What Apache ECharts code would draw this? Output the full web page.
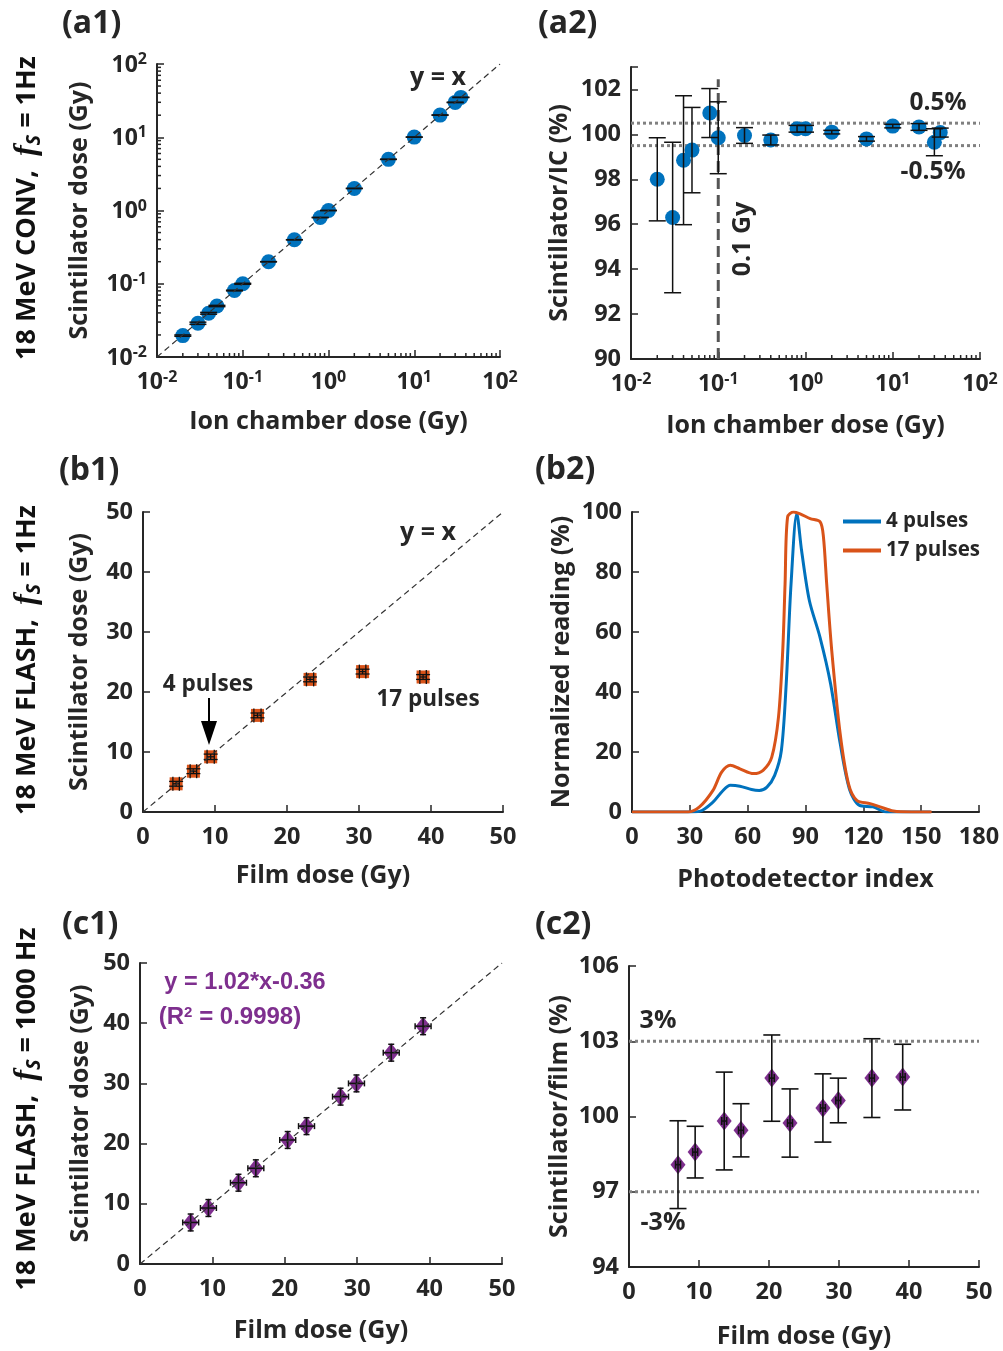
<!DOCTYPE html>
<html><head><meta charset="utf-8">
<script src="https://cdn.jsdelivr.net/npm/echarts@6/dist/echarts.min.js"></script>
<style>html,body{margin:0;padding:0;background:#fff}#c{width:1003px;height:1351px}</style>
</head><body><div id="c"></div>
<script>
// ---------- data ----------
// (a) 18 MeV CONV
const icDose      = [0.02,0.03,0.04,0.05,0.08,0.1,0.2,0.4,0.8,1,2,5,10,20,30,35];
const scintA1     = [0.0196,0.0289,0.0395,0.0497,0.0808,0.0999,0.2,0.399,0.802,1.0,2.0,4.99,10.04,20.07,29.9,35.0];
const scintA1Err  = [0.0004,0.001,0.0011,0.001,0.0009,0.0016,0.0007,0.0009,0.0012,0.0015,0.0016,0.005,0.008,0.03,0.18,0.07];
const ratioIC     = [98.0,96.3,98.85,99.3,100.95,99.85,99.95,99.75,100.25,100.25,100.1,99.8,100.37,100.33,99.65,100.08];
const ratioICErr  = [1.85,3.35,2.87,1.9,1.09,1.6,0.35,0.22,0.15,0.15,0.08,0.1,0.08,0.15,0.6,0.2];
// (b1) 18 MeV FLASH, 1 Hz
const filmB       = [4.6,7.0,9.4,15.9,23.2,30.5,38.9];
const scintB      = [4.7,6.8,9.2,16.1,22.1,23.4,22.5];
const filmBErr    = [0.45,0.45,0.5,0.5,0.5,0.45,0.45];
const scintBErr   = [0.4,0.4,0.45,0.4,0.4,0.4,0.4];
// (b2) profiles
const p4X  = [0,30,35,42,47,51,56,62,66,70,74,77.5,80,82.5,85.5,88,92,97.5,103,108,113,118,125,132,155];
const p4Y  = [0,0,0.2,3.3,7,8.9,8.6,7.5,7.2,8.3,12.2,20.6,42.8,76,99.5,87,70.5,58.3,42.8,22.8,7.2,2.2,1.7,0,0];
const p17X = [0,29,35,42,46.5,51,56,63,68,72.5,76,78.2,79.4,80.7,83.8,87.2,92.4,97.6,99.3,101,103.6,108,112.3,116.6,123.5,128.7,135.6,145,155.4];
const p17Y = [0,0,1.7,7.2,13.3,15.6,14.4,12.8,13.9,18.3,31.7,53.9,76,98.3,100,99.4,97.8,96.7,91.7,76,53.9,26,9.4,3.9,2.8,1.7,0.3,0,0];
// (c) 18 MeV FLASH, 1000 Hz
const filmC       = [7.0,9.45,13.6,16.0,20.4,23.0,27.7,29.9,34.7,39.1];
const scintC      = [6.9,9.3,13.5,15.9,20.6,22.9,27.8,30.0,35.1,39.5];
const filmCErr    = [1.1,1.1,1.1,1.1,1.1,1.1,1.1,1.1,1.1,1.1];
const scintCErr   = [1.4,1.4,1.4,1.4,1.4,1.4,1.4,1.4,1.4,1.4];
const ratioFilm   = [98.08,98.58,99.82,99.45,101.53,99.74,100.34,100.64,101.53,101.57];
const ratioFilmErr= [1.75,1.03,1.95,1.06,1.72,1.36,1.36,0.89,1.57,1.31];
const ratioFilmXErr=[0.35,0.35,0.35,0.35,0.35,0.35,0.35,0.35,0.35,0.35];
// reference lines
const icTolerance   = [100.5, 99.5];
const filmTolerance = [103, 97];
const icThreshold   = 0.1;

// ---------- styling ----------
const FONT = 'Open Sans';
const TXT = '#262626';
const BLUE = '#0072BD', ORANGE = '#D95319', PURPLE = '#7E2F8E';

const logMinor = [];
for (let k = -2; k <= 1; k++) for (let m = 2; m <= 9; m++) logMinor.push(m * Math.pow(10, k));

function logLabel(v) { return '{b|10}{s|' + Math.round(Math.log10(v)) + '}'; }
const logRich = {
  b: {fontFamily: FONT, fontWeight: 'bold', fontSize: 23, color: TXT, lineHeight: 25, verticalAlign: 'bottom', padding: [3, 0, 0, 0]},
  s: {fontFamily: FONT, fontWeight: 'bold', fontSize: 16, color: TXT, lineHeight: 15, verticalAlign: 'top'}
};

function mkAxis(o) {
  const ax = {
    type: o.type || 'value', gridIndex: o.grid, min: o.min, max: o.max,
    name: o.name, nameLocation: 'middle', nameGap: o.gap,
    nameTextStyle: {color: TXT, fontFamily: FONT, fontWeight: 'bold', fontSize: 25},
    axisLine: {show: true, onZero: false, lineStyle: {color: TXT, width: 2}},
    axisTick: {show: true, inside: true, length: 7, lineStyle: {color: TXT, width: 1.5}},
    splitLine: {show: false}, minorTick: {show: false}, minorSplitLine: {show: false},
    axisLabel: {color: TXT, fontFamily: FONT, fontWeight: 'bold', fontSize: 23.5, margin: o.margin || 10,
      showMinLabel: true, showMaxLabel: true}
  };
  if (o.interval != null) ax.interval = o.interval;
  if (o.type === 'log') { ax.logBase = 10; ax.axisLabel.formatter = logLabel; ax.axisLabel.rich = logRich; }
  if (o.fmt) ax.axisLabel.formatter = o.fmt;
  return ax;
}

function errRender(capW, capH, color, width) {
  return function (params, api) {
    const x = api.value(0), y = api.value(1), ex = api.value(2), ey = api.value(3);
    const st = {stroke: color, lineWidth: width};
    const ch = [];
    if (ey > 0) {
      const a = api.coord([x, y + ey]), b = api.coord([x, y - ey]);
      ch.push({type: 'line', shape: {x1: a[0], y1: a[1], x2: b[0], y2: b[1]}, style: st});
      ch.push({type: 'line', shape: {x1: a[0] - capW, y1: a[1], x2: a[0] + capW, y2: a[1]}, style: st});
      ch.push({type: 'line', shape: {x1: b[0] - capW, y1: b[1], x2: b[0] + capW, y2: b[1]}, style: st});
    }
    if (ex > 0) {
      const a = api.coord([x - ex, y]), b = api.coord([x + ex, y]);
      ch.push({type: 'line', shape: {x1: a[0], y1: a[1], x2: b[0], y2: b[1]}, style: st});
      ch.push({type: 'line', shape: {x1: a[0], y1: a[1] - capH, x2: a[0], y2: a[1] + capH}, style: st});
      ch.push({type: 'line', shape: {x1: b[0], y1: b[1] - capH, x2: b[0], y2: b[1] + capH}, style: st});
    }
    return {type: 'group', children: ch};
  };
}
function errSeries(ai, xs, ys, exs, eys, capW, capH, width) {
  return {type: 'custom', xAxisIndex: ai, yAxisIndex: ai, clip: false, z: 4,
    encode: {x: 0, y: 1}, silent: true,
    renderItem: errRender(capW, capH, '#111', width || 1.5),
    data: xs.map((x, i) => [x, ys[i], exs ? exs[i] : 0, eys ? eys[i] : 0])};
}
function minorTickSeries(ai, withY) {
  const d = logMinor.map(v => [v, withY ? 0.01 : 90, 0]);
  if (withY) logMinor.forEach(v => d.push([0.01, v, 1]));
  return {type: 'custom', xAxisIndex: ai, yAxisIndex: ai, clip: false, z: 5, silent: true,
    encode: {x: 0, y: 1},
    renderItem: function (params, api) {
      const flag = api.value(2);
      const p = api.coord([api.value(0), api.value(1)]);
      if (flag === 0) return {type: 'line', shape: {x1: p[0], y1: p[1], x2: p[0], y2: p[1] - 4}, style: {stroke: TXT, lineWidth: 1.5}};
      return {type: 'line', shape: {x1: p[0], y1: p[1], x2: p[0] + 4, y2: p[1]}, style: {stroke: TXT, lineWidth: 1.5}};
    },
    data: d};
}
function refLine(ai, pts, color, width, dash, z) {
  return {type: 'line', xAxisIndex: ai, yAxisIndex: ai, data: pts, showSymbol: false, symbol: 'none',
    silent: true, z: z || 6, lineStyle: {color: color, width: width, type: dash}};
}
function zip(a, b) { return a.map((v, i) => [v, b[i]]); }

const grids = [
  {left: 157, top: 64, width: 343, height: 293},
  {left: 631, top: 67, width: 349, height: 292},
  {left: 143, top: 512, width: 360, height: 300},
  {left: 632, top: 512, width: 347, height: 300},
  {left: 140, top: 963, width: 362, height: 301},
  {left: 629, top: 966, width: 350, height: 301}
].map(g => Object.assign(g, {containLabel: false, outerBoundsMode: 'none'}));

const xAxis = [
  mkAxis({type: 'log', grid: 0, min: 0.01, max: 100, name: 'Ion chamber dose (Gy)', gap: 52, margin: 12}),
  mkAxis({type: 'log', grid: 1, min: 0.01, max: 100, name: 'Ion chamber dose (Gy)', gap: 54, margin: 12}),
  mkAxis({grid: 2, min: 0, max: 50, interval: 10, name: 'Film dose (Gy)', gap: 51, margin: 13}),
  mkAxis({grid: 3, min: 0, max: 180, interval: 30, name: 'Photodetector index', gap: 55, margin: 13}),
  mkAxis({grid: 4, min: 0, max: 50, interval: 10, name: 'Film dose (Gy)', gap: 54, margin: 13}),
  mkAxis({grid: 5, min: 0, max: 50, interval: 10, name: 'Film dose (Gy)', gap: 57, margin: 13})
];
const yAxis = [
  mkAxis({type: 'log', grid: 0, min: 0.01, max: 100, name: 'Scintillator dose (Gy)', gap: 65}),
  mkAxis({grid: 1, min: 90, max: 103, interval: 2, name: 'Scintillator/IC (%)', gap: 59,
    fmt: v => (v > 102.5 ? '' : String(v))}),
  mkAxis({grid: 2, min: 0, max: 50, interval: 10, name: 'Scintillator dose (Gy)', gap: 51}),
  mkAxis({grid: 3, min: 0, max: 100, interval: 20, name: 'Normalized reading (%)', gap: 58}),
  mkAxis({grid: 4, min: 0, max: 50, interval: 10, name: 'Scintillator dose (Gy)', gap: 47}),
  mkAxis({grid: 5, min: 94, max: 106, interval: 3, name: 'Scintillator/film (%)', gap: 57})
];

const series = [
  // a1
  {type: 'scatter', xAxisIndex: 0, yAxisIndex: 0, data: zip(icDose, scintA1), symbol: 'circle', symbolSize: 15,
    itemStyle: {color: BLUE, opacity: 1}, z: 3},
  errSeries(0, icDose, scintA1, null, scintA1Err, 8.5, 0, 1.5),
  refLine(0, [[0.01, 0.01], [100, 100]], '#333', 1.2, [6, 4]),
  minorTickSeries(0, true),
  // a2
  refLine(1, [[0.01, icTolerance[0]], [100, icTolerance[0]]], '#808080', 3, [3, 3], 2),
  refLine(1, [[0.01, icTolerance[1]], [100, icTolerance[1]]], '#808080', 3, [3, 3], 2),
  refLine(1, [[icThreshold, 90], [icThreshold, 102.45]], '#555', 3, [11, 6], 2),
  {type: 'scatter', xAxisIndex: 1, yAxisIndex: 1, data: zip(icDose, ratioIC), symbol: 'circle', symbolSize: 15,
    itemStyle: {color: BLUE, opacity: 1}, z: 3},
  errSeries(1, icDose, ratioIC, null, ratioICErr, 8.5, 0, 1.5),
  minorTickSeries(1, false),
  // b1
  {type: 'scatter', xAxisIndex: 2, yAxisIndex: 2, data: zip(filmB, scintB), symbol: 'rect', symbolSize: 13,
    itemStyle: {color: ORANGE, opacity: 1}, z: 3},
  errSeries(2, filmB, scintB, filmBErr, scintBErr, 7, 7, 1.3),
  refLine(2, [[0, 0], [50, 50]], '#333', 1.2, [6, 4]),
  // b2
  {type: 'line', name: '4 pulses', xAxisIndex: 3, yAxisIndex: 3, data: zip(p4X, p4Y), smooth: 0.3,
    showSymbol: false, symbol: 'none', lineStyle: {color: BLUE, width: 3}, itemStyle: {color: BLUE}, z: 3},
  {type: 'line', name: '17 pulses', xAxisIndex: 3, yAxisIndex: 3, data: zip(p17X, p17Y), smooth: 0.3,
    showSymbol: false, symbol: 'none', lineStyle: {color: ORANGE, width: 3}, itemStyle: {color: ORANGE}, z: 4},
  // c1
  {type: 'scatter', xAxisIndex: 4, yAxisIndex: 4, data: zip(filmC, scintC), symbol: 'diamond', symbolSize: [15, 19],
    itemStyle: {color: PURPLE, opacity: 1}, z: 3},
  errSeries(4, filmC, scintC, filmCErr, scintCErr, 3, 3, 1.5),
  refLine(4, [[0, 0], [50, 50]], '#333', 1.2, [6, 4]),
  // c2
  refLine(5, [[0, filmTolerance[0]], [50, filmTolerance[0]]], '#808080', 3, [3, 3], 2),
  refLine(5, [[0, filmTolerance[1]], [50, filmTolerance[1]]], '#808080', 3, [3, 3], 2),
  {type: 'scatter', xAxisIndex: 5, yAxisIndex: 5, data: zip(filmC, ratioFilm), symbol: 'diamond', symbolSize: [15, 19],
    itemStyle: {color: PURPLE, opacity: 1}, z: 3},
  errSeries(5, filmC, ratioFilm, ratioFilmXErr, ratioFilmErr, 8.5, 4, 1.6)
];

// ---------- texts ----------
function txt(x, y, text, size, opts) {
  opts = opts || {};
  return {type: 'text', x: x, y: y, rotation: opts.rot || 0, z: 100, silent: true,
    style: {text: text, fontFamily: opts.font || FONT, fontWeight: 'bold', fontSize: size,
      fill: opts.color || TXT, textAlign: opts.align || 'center', textVerticalAlign: 'middle',
      rich: opts.rich}};
}
const rowRich = {
  a: {fontFamily: FONT, fontWeight: 'bold', fontSize: 27, fill: '#111', color: '#111', lineHeight: 34, verticalAlign: 'middle'},
  f: {fontFamily: 'Liberation Serif', fontStyle: 'italic', fontWeight: 'bold', fontSize: 32, fill: '#111', color: '#111', lineHeight: 34, verticalAlign: 'middle'},
  s: {fontFamily: FONT, fontStyle: 'italic', fontWeight: 'bold', fontSize: 20, fill: '#111', color: '#111', lineHeight: 30, verticalAlign: 'bottom'}
};
const graphic = [
  txt(27, 208, '{a|18 MeV CONV,  }{f|f}{s|S}{a| = 1Hz}', 27, {rot: Math.PI / 2, rich: rowRich}),
  txt(27, 660, '{a|18 MeV FLASH,  }{f|f}{s|S}{a| = 1Hz}', 27, {rot: Math.PI / 2, rich: rowRich}),
  txt(27, 1109, '{a|18 MeV FLASH,  }{f|f}{s|S}{a| = 1000 Hz}', 27, {rot: Math.PI / 2, rich: rowRich}),
  txt(62, 24, '(a1)', 32, {align: 'left'}),
  txt(538, 24, '(a2)', 32, {align: 'left'}),
  txt(59, 471, '(b1)', 32, {align: 'left'}),
  txt(535, 470, '(b2)', 32, {align: 'left'}),
  txt(62, 925, '(c1)', 32, {align: 'left'}),
  txt(535, 925, '(c2)', 32, {align: 'left'}),
  txt(438, 78, 'y = x', 25),
  txt(938, 103, '0.5%', 24.5),
  txt(933, 172, '-0.5%', 24.5),
  txt(743, 239, '0.1 Gy', 25, {rot: Math.PI / 2}),
  txt(428, 533, 'y = x', 25),
  txt(208, 685, '4 pulses', 22.5),
  txt(428, 700, '17 pulses', 22.5),
  {type: 'line', z: 100, shape: {x1: 209, y1: 698, x2: 209, y2: 724}, style: {stroke: '#000', lineWidth: 2}},
  {type: 'polygon', z: 100, shape: {points: [[201, 721], [217, 721], [209, 745]]}, style: {fill: '#000'}},
  txt(245, 983, 'y = 1.02*x-0.36', 23.5, {font: 'Liberation Sans', color: PURPLE}),
  txt(230, 1017, '(R{sup|2} = 0.9998)', 24, {font: 'Liberation Sans', color: PURPLE,
    rich: {sup: {fontFamily: 'Liberation Sans', fontWeight: 'bold', fontSize: 15, fill: PURPLE, color: PURPLE, verticalAlign: 'top', lineHeight: 13}}}),
  txt(658, 1021, '3%', 25),
  txt(663, 1223, '-3%', 25)
];

const chart = echarts.init(document.getElementById('c'), null, {renderer: 'canvas'});
chart.setOption({
  backgroundColor: '#fff',
  animation: false,
  grid: grids, xAxis: xAxis, yAxis: yAxis, series: series, graphic: graphic,
  legend: {data: ['4 pulses', '17 pulses'], orient: 'vertical', left: 838, top: 506, icon: 'rect',
    itemWidth: 38, itemHeight: 4, itemGap: 8, selectedMode: false,
    textStyle: {fontFamily: FONT, fontWeight: 'bold', fontSize: 20.5, color: TXT}}
});
</script></body></html>
